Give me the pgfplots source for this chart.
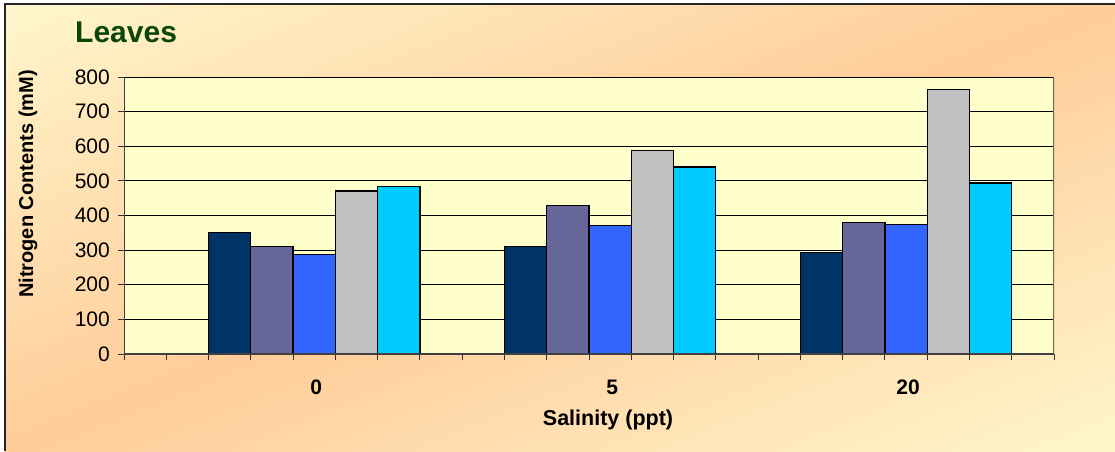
\documentclass[border=0pt]{standalone}
\usepackage{pgfplots}
\pgfplotsset{compat=1.18}
\usepackage{fontspec}
\setmainfont{Liberation Sans}
\definecolor{cNavy}{HTML}{003366}
\definecolor{cSlate}{HTML}{666699}
\definecolor{cBlue}{HTML}{3366FF}
\definecolor{cGray}{HTML}{C0C0C0}
\definecolor{cCyan}{HTML}{00CCFF}
\definecolor{plotbg}{HTML}{FFFFCC}
\definecolor{titlegreen}{HTML}{0A460A}
\pgfdeclarefunctionalshading{bgshade}{\pgfpoint{0bp}{0bp}}{\pgfpoint{100bp}{100bp}}{}{
  sub abs 50 div dup 1 gt {pop 1} if
  dup 0.165 mul 0.8 add exch 0.2 mul 0.6 add 1 3 1 roll
}
\begin{document}
\begin{tikzpicture}[x=1pt,y=1pt]
\useasboundingbox (0,0) rectangle (1115,451);
\fill[white] (0,0) rectangle (1115,451);
\shade[shading=bgshade] (5,0) rectangle (1115,447);
\draw[line width=2pt, black!85] (5,0) -- (5,447) -- (1115,447);
\node[anchor=base west, text=titlegreen, font=\fontsize{30}{36}\selectfont\bfseries, inner sep=0pt] at (75,409) {Leaves};
\node[anchor=base, font=\fontsize{21.5}{26}\selectfont\bfseries, inner sep=0pt] at (608,26) {Salinity (ppt)};
\node[anchor=base, rotate=90, font=\fontsize{20}{24}\selectfont\bfseries, inner sep=0pt] at (33,267) {Nitrogen Contents (mM)};
\begin{axis}[
  at={(124pt,97pt)}, anchor=south west, scale only axis,
  width=930pt, height=277pt,
  xmin=0, xmax=22, ymin=0, ymax=800,
  axis background/.style={fill=plotbg},
  axis line style={draw=none},
  xtick={0,1,...,22}, xticklabels={},
  ytick={0,100,...,800},
  xtick pos=left, ytick pos=left,
  tick align=outside, major tick length=6pt,
  tick style={black!80, line width=1pt},
  ymajorgrids, major grid style={black, line width=1pt},
  /pgf/number format/assume math mode=true,
  yticklabel style={font=\fontsize{21}{25}\selectfont, anchor=east, inner sep=0pt, xshift=-8pt},
  extra x ticks={4.5,11.5,18.5},
  extra x tick labels={0,5,20},
  extra x tick style={major tick length=0pt, xticklabel style={font=\fontsize{21}{25}\selectfont\bfseries, anchor=base, inner sep=0pt, yshift=-40pt, xshift=2pt}},
]
\addplot[ybar, bar width=1, bar shift=0pt, fill=cNavy, draw=black, line width=1.2pt] coordinates {(2.5,350) (9.5,311) (16.5,293)};
\addplot[ybar, bar width=1, bar shift=0pt, fill=cSlate, draw=black, line width=1.2pt] coordinates {(3.5,311) (10.5,428) (17.5,379)};
\addplot[ybar, bar width=1, bar shift=0pt, fill=cBlue, draw=black, line width=1.2pt] coordinates {(4.5,287) (11.5,370) (18.5,373)};
\addplot[ybar, bar width=1, bar shift=0pt, fill=cGray, draw=black, line width=1.2pt] coordinates {(5.5,471) (12.5,588) (19.5,763)};
\addplot[ybar, bar width=1, bar shift=0pt, fill=cCyan, draw=black, line width=1.2pt] coordinates {(6.5,484) (13.5,540) (20.5,494)};
\draw[black!50!olive!60!gray, line width=1.6pt] (rel axis cs:1,0) -- (rel axis cs:1,1);
\draw[black!75, line width=1.6pt] (rel axis cs:0,1) -- (rel axis cs:0,0) -- (rel axis cs:1,0);
\end{axis}
\end{tikzpicture}
\end{document}
